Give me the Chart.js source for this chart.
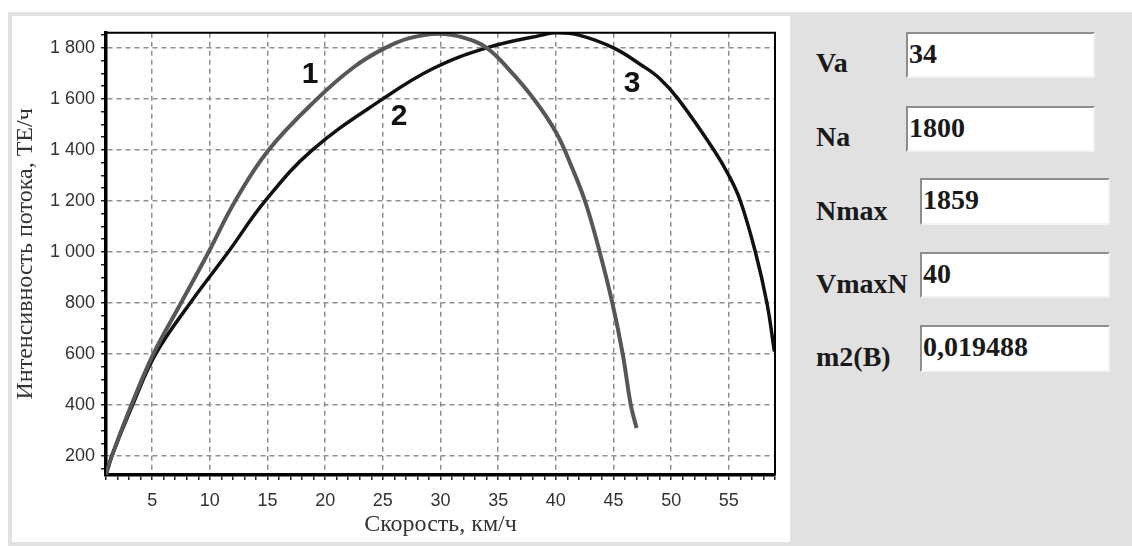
<!DOCTYPE html>
<html>
<head>
<meta charset="utf-8">
<script src="https://cdn.jsdelivr.net/npm/chart.js@4"></script>
<style>
  body { margin: 0; width: 1132px; height: 546px; background: #fff; position: relative; overflow: hidden; }
  #back { position: absolute; left: 8px; top: 12px; right: 0; bottom: 0; background: #e1e1e1; }
  #plotPanel { position: absolute; left: 12px; top: 16px; width: 778px; height: 526px; background: #fff; }
  .lbl { position: absolute; left: 816px; font: bold 28px/28px "Liberation Serif", serif; color: #1a1a1a; white-space: nowrap; }
  .box { position: absolute; box-sizing: border-box; background: #fff;
         border-top: 2px solid #8e8e8e; border-left: 2px solid #8e8e8e;
         border-right: 2px solid #f2f2f2; border-bottom: 2px solid #f2f2f2;
         padding: 6px 0 0 1px; font: bold 28px/28px "Liberation Serif", serif; color: #1a1a1a; }
  .r0.lbl { top: 49px; }  .r0.box { left: 906px; top: 32px;  width: 189px; height: 46px; }
  .r1.lbl { top: 123px; } .r1.box { left: 906px; top: 106px; width: 189px; height: 46px; }
  .r2.lbl { top: 197px; } .r2.box { left: 920px; top: 178px; width: 190px; height: 47px; }
  .r3.lbl { top: 270px; } .r3.box { left: 920px; top: 252px; width: 190px; height: 46px; }
  .r4.lbl { top: 343px; } .r4.box { left: 920px; top: 325px; width: 190px; height: 47px; }
</style>
</head>
<body>
<div id="back"></div>
<div id="plotPanel"><canvas id="chart" width="778" height="526"></canvas></div>
<script>
// curve 1 (grey)
const speed1 = [1, 1.5, 3.2, 5.1, 7.5, 9.9, 12.2, 15.1, 19.3, 22.5, 25, 27.3, 29.8, 32, 34, 36, 38, 40, 41.5, 42.6, 43.8, 44.9, 45.8, 46.5, 47];
const flow1 = [128, 200, 400, 600, 800, 1000, 1200, 1400, 1600, 1725, 1795, 1838, 1855, 1840, 1800, 1712, 1605, 1470, 1320, 1190, 1000, 800, 600, 400, 310];
// curve 2-3 (black)
const speed2 = [1, 1.5, 3.3, 5.3, 8.3, 11.6, 14.8, 18.9, 25, 29.4, 34, 38.9, 40, 42, 45, 47.5, 49, 50.6, 53.7, 55, 56, 57.3, 58.3, 58.95];
const flow2 = [128, 200, 400, 600, 800, 1000, 1200, 1400, 1600, 1720, 1800, 1851, 1859, 1850, 1800, 1730, 1680, 1600, 1400, 1300, 1200, 1000, 800, 610];

// numbers written on the curves
const curveTags = ['1', '2', '3'];
const tagSpeed = [18.7, 26.4, 46.6];
const tagFlow = [1694, 1531, 1659];

// side panel
const paramNames = ['Va', 'Na', 'Nmax', 'VmaxN', 'm2(B)'];
const paramValues = ['34', '1800', '1859', '40', '0,019488'];

const xMin = 1, xMax = 59;
const yMin = 126, yMax = 1859;

paramNames.forEach((name, i) => {
  const l = document.createElement('div');
  l.className = 'lbl r' + i;
  l.textContent = name;
  document.body.appendChild(l);
  const b = document.createElement('div');
  b.className = 'box r' + i;
  b.textContent = paramValues[i];
  document.body.appendChild(b);
});

function toPoints(xs, ys) {
  return xs.map((x, i) => ({ x: x, y: ys[i] }));
}

function spaced(v) {
  if (v < 1000) return String(v);
  return Math.floor(v / 1000) + ' ' + String(v % 1000).padStart(3, '0');
}

// top/right frame and the curve numbers
const extras = {
  id: 'extras',
  afterDatasetsDraw(chart) {
    const { ctx, chartArea: a } = chart;
    const xs = chart.scales.x, ys = chart.scales.y;
    ctx.save();
    ctx.strokeStyle = '#000';
    ctx.lineWidth = 2;
    ctx.beginPath();
    ctx.moveTo(a.left, a.top);
    ctx.lineTo(a.right, a.top);
    ctx.lineTo(a.right, a.bottom);
    ctx.stroke();
    ctx.font = 'bold 30px "Liberation Sans", Arial, sans-serif';
    ctx.fillStyle = '#111';
    ctx.textAlign = 'center';
    ctx.textBaseline = 'middle';
    curveTags.forEach((t, i) => {
      ctx.fillText(t, xs.getPixelForValue(tagSpeed[i]), ys.getPixelForValue(tagFlow[i]));
    });
    ctx.restore();
  }
};

const tickFont = { family: '"Liberation Sans", Arial, sans-serif', size: 18 };
const titleFont = { family: '"Liberation Serif", "Times New Roman", serif', size: 24 };

new Chart(document.getElementById('chart'), {
  type: 'line',
  data: {
    datasets: [
      {
        data: toPoints(speed1, flow1),
        borderColor: '#575757',
        borderWidth: 4,
        pointRadius: 0,
        tension: 0.4
      },
      {
        data: toPoints(speed2, flow2),
        borderColor: '#111',
        borderWidth: 3.5,
        pointRadius: 0,
        tension: 0.4
      }
    ]
  },
  options: {
    responsive: false,
    animation: false,
    layout: { padding: { top: 12, right: 15, left: 0, bottom: 0 } },
    plugins: { legend: { display: false }, tooltip: { enabled: false } },
    scales: {
      x: {
        type: 'linear',
        min: xMin,
        max: xMax,
        afterFit: (s) => { s.height = 67; },
        ticks: {
          stepSize: 1,
          autoSkip: false,
          maxRotation: 0,
          includeBounds: false,
          padding: 10,
          color: '#333',
          font: tickFont,
          callback: (v) => (v % 5 === 0 ? String(v) : '')
        },
        grid: {
          color: (c) => (c.tick && c.tick.value % 5 === 0 ? '#8f8f8f' : 'rgba(0,0,0,0)'),
          lineWidth: 1.5,
          tickColor: '#222',
          tickLength: 5,
          tickWidth: 1.5
        },
        border: { color: '#000', width: 3.5, dash: [5, 4] },
        title: {
          display: true, text: 'Скорость, км/ч', color: '#333', font: titleFont,
          padding: { top: 0, bottom: 3 }
        }
      },
      y: {
        min: yMin,
        max: yMax,
        afterFit: (s) => { s.width = 94; },
        ticks: {
          stepSize: 50,
          autoSkip: false,
          includeBounds: false,
          padding: 6,
          color: '#333',
          font: tickFont,
          callback: (v) => (v % 200 === 0 ? spaced(v) : '')
        },
        grid: {
          color: (c) => (c.tick && c.tick.value % 200 === 0 ? '#8f8f8f' : 'rgba(0,0,0,0)'),
          lineWidth: 1.5,
          tickColor: (c) => (c.tick && c.tick.value % 50 === 0 ? '#222' : 'rgba(0,0,0,0)'),
          tickLength: 5,
          tickWidth: 1.5
        },
        border: { color: '#000', width: 3.5, dash: [5, 4] },
        title: {
          display: true, text: 'Интенсивность потока, ТЕ/ч', color: '#333', font: titleFont,
          padding: { top: -1, bottom: 0 }
        }
      }
    }
  },
  plugins: [extras]
});
</script>
</body>
</html>
